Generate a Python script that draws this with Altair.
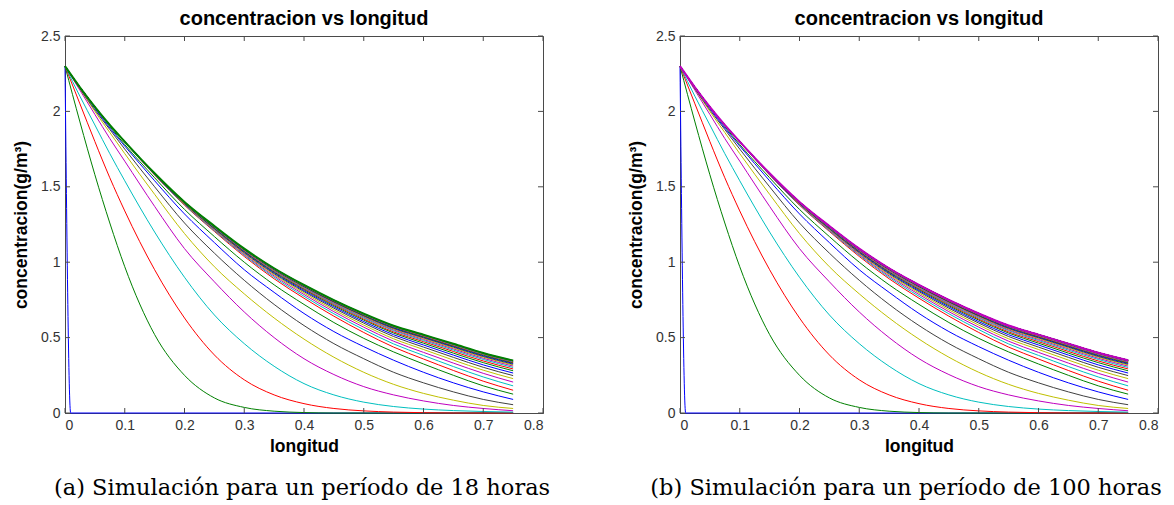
import altair as alt
import pandas as pd

# ---------------- data ----------------
longitud = [0, 0.025, 0.05, 0.075, 0.1, 0.15, 0.2, 0.25, 0.3, 0.35, 0.4, 0.45,
            0.5, 0.55, 0.6, 0.65, 0.7, 0.75]

# first profile (t = 0): a spike at the inlet
c01_x = [0, 0.0095, 0.75]
c01 = [2.30, 0.0, 0.0]

c02 = [2.30, 1.93, 1.58, 1.26, 0.97, 0.52, 0.25, 0.10, 0.037, 0.012, 0.003, 0, 0, 0, 0, 0, 0, 0]
c03 = [2.30, 2.05, 1.80, 1.56, 1.34, 0.95, 0.63, 0.385, 0.22, 0.12, 0.062, 0.03, 0.014, 0.006, 0.002, 0, 0, 0]
c04 = [2.30, 2.10, 1.91, 1.72, 1.54, 1.20, 0.90, 0.65, 0.46, 0.31, 0.195, 0.12, 0.072, 0.043, 0.026, 0.016, 0.010, 0.006]
c05 = [2.30, 2.14, 1.98, 1.82, 1.67, 1.37, 1.09, 0.87, 0.67, 0.50, 0.36, 0.255, 0.175, 0.12, 0.08, 0.05, 0.03, 0.015]
c06 = [2.30, 2.15, 2.00, 1.86, 1.72, 1.45, 1.19, 0.97, 0.79, 0.63, 0.49, 0.37, 0.27, 0.19, 0.13, 0.085, 0.05, 0.03]
c07 = [2.30, 2.15, 2.01, 1.88, 1.75, 1.50, 1.26, 1.06, 0.88, 0.72, 0.58, 0.46, 0.36, 0.27, 0.20, 0.14, 0.09, 0.055]
c08 = [2.30, 2.16, 2.02, 1.89, 1.77, 1.54, 1.32, 1.13, 0.95, 0.80, 0.66, 0.54, 0.44, 0.35, 0.27, 0.20, 0.14, 0.09]
c09 = [2.30, 2.16, 2.03, 1.90, 1.78, 1.56, 1.35, 1.17, 1.00, 0.85, 0.72, 0.60, 0.495, 0.405, 0.325, 0.25, 0.18, 0.125]
c10 = [2.30, 2.16, 2.029, 1.908, 1.796, 1.578, 1.378, 1.204, 1.038, 0.890, 0.761, 0.642, 0.534, 0.437, 0.358, 0.282, 0.211, 0.151]
c11 = [2.30, 2.16, 2.029, 1.908, 1.796, 1.580, 1.381, 1.209, 1.046, 0.900, 0.774, 0.658, 0.553, 0.458, 0.382, 0.308, 0.239, 0.180]
c12 = [2.30, 2.16, 2.029, 1.908, 1.797, 1.581, 1.384, 1.214, 1.052, 0.909, 0.786, 0.672, 0.569, 0.476, 0.402, 0.331, 0.263, 0.205]
c13 = [2.30, 2.16, 2.030, 1.909, 1.797, 1.583, 1.386, 1.218, 1.058, 0.917, 0.796, 0.684, 0.583, 0.492, 0.421, 0.351, 0.284, 0.228]
c14 = [2.30, 2.16, 2.030, 1.909, 1.798, 1.584, 1.389, 1.222, 1.063, 0.924, 0.805, 0.695, 0.596, 0.507, 0.437, 0.369, 0.303, 0.248]
c15 = [2.30, 2.16, 2.030, 1.909, 1.798, 1.585, 1.391, 1.225, 1.068, 0.930, 0.812, 0.704, 0.606, 0.519, 0.451, 0.384, 0.319, 0.265]
c16 = [2.30, 2.16, 2.030, 1.909, 1.799, 1.586, 1.392, 1.227, 1.072, 0.935, 0.819, 0.712, 0.616, 0.530, 0.463, 0.397, 0.334, 0.280]
c17 = [2.30, 2.16, 2.030, 1.909, 1.799, 1.587, 1.394, 1.230, 1.075, 0.940, 0.824, 0.719, 0.623, 0.538, 0.473, 0.408, 0.345, 0.292]
c18 = [2.30, 2.16, 2.030, 1.909, 1.799, 1.587, 1.395, 1.231, 1.078, 0.943, 0.829, 0.724, 0.630, 0.546, 0.481, 0.417, 0.355, 0.302]
c19 = [2.30, 2.16, 2.030, 1.910, 1.799, 1.588, 1.396, 1.233, 1.080, 0.946, 0.833, 0.729, 0.636, 0.552, 0.488, 0.425, 0.363, 0.311]
c20 = [2.30, 2.16, 2.030, 1.910, 1.799, 1.588, 1.396, 1.234, 1.082, 0.949, 0.836, 0.733, 0.640, 0.557, 0.494, 0.431, 0.370, 0.318]
c21 = [2.30, 2.16, 2.030, 1.910, 1.799, 1.588, 1.397, 1.235, 1.083, 0.951, 0.838, 0.736, 0.644, 0.561, 0.499, 0.437, 0.375, 0.324]
c22 = [2.30, 2.16, 2.030, 1.910, 1.800, 1.589, 1.398, 1.236, 1.085, 0.953, 0.841, 0.739, 0.647, 0.565, 0.503, 0.441, 0.380, 0.329]
c23 = [2.30, 2.16, 2.030, 1.910, 1.800, 1.589, 1.398, 1.237, 1.086, 0.954, 0.842, 0.741, 0.649, 0.568, 0.506, 0.445, 0.384, 0.333]
c24 = [2.30, 2.16, 2.030, 1.910, 1.800, 1.589, 1.399, 1.238, 1.087, 0.955, 0.844, 0.743, 0.652, 0.571, 0.509, 0.448, 0.388, 0.337]
c25 = [2.30, 2.16, 2.030, 1.910, 1.800, 1.589, 1.399, 1.238, 1.087, 0.956, 0.845, 0.745, 0.654, 0.573, 0.512, 0.451, 0.390, 0.340]
c26 = [2.30, 2.16, 2.030, 1.910, 1.800, 1.590, 1.399, 1.239, 1.088, 0.957, 0.846, 0.746, 0.655, 0.574, 0.513, 0.453, 0.392, 0.342]
c27 = [2.30, 2.16, 2.030, 1.910, 1.800, 1.590, 1.400, 1.239, 1.088, 0.958, 0.847, 0.747, 0.656, 0.576, 0.515, 0.455, 0.394, 0.344]
c28 = [2.30, 2.16, 2.030, 1.910, 1.800, 1.590, 1.400, 1.239, 1.089, 0.959, 0.848, 0.748, 0.658, 0.577, 0.517, 0.457, 0.396, 0.346]
c29 = [2.30, 2.16, 2.030, 1.910, 1.800, 1.590, 1.400, 1.240, 1.089, 0.959, 0.849, 0.749, 0.658, 0.578, 0.518, 0.458, 0.397, 0.347]
c30 = [2.30, 2.16, 2.030, 1.910, 1.800, 1.590, 1.400, 1.240, 1.090, 0.960, 0.849, 0.749, 0.659, 0.579, 0.519, 0.459, 0.398, 0.348]
# converged (steady-state) profile, repeated in the 100 h run
estacionario = [2.30, 2.16, 2.03, 1.91, 1.80, 1.59, 1.40, 1.24, 1.09, 0.96, 0.85, 0.75, 0.66, 0.58, 0.52, 0.46, 0.40, 0.35]

ticks_x = [0, 0.1, 0.2, 0.3, 0.4, 0.5, 0.6, 0.7, 0.8]
ticks_y = [0, 0.5, 1, 1.5, 2, 2.5]

# MATLAB default colour order (b, g, r, c, m, y, k)
colores = ["#0000FF", "#008000", "#FF0000", "#00BFBF", "#BF00BF", "#BFBF00", "#404040"]

titulo = "concentracion vs longitud"
eje_x = "longitud"
eje_y = "concentracion(g/m³)"
caption_a = "(a) Simulación para un período de 18 horas"
caption_b = "(b) Simulación para un período de 100 horas"

transitorios = [c02, c03, c04, c05, c06, c07, c08, c09, c10, c11, c12, c13, c14, c15, c16,
                c17, c18, c19, c20, c21, c22, c23, c24, c25, c26, c27, c28, c29, c30]
curvas_a = [(c01_x, c01)] + [(longitud, c) for c in transitorios]
curvas_b = curvas_a + [(longitud, estacionario)] * 10

W, H = 478, 377
AX = "#4a4a4a"
SANS = "Liberation Sans"


def tabla(curvas):
    filas = []
    n = len(curvas)
    for i, (xs, ys) in enumerate(curvas):
        for x, y in zip(xs, ys):
            filas.append({"curva": i, "x": x, "c": y, "color": colores[i % 7],
                          "grosor": 2.0 if i == n - 1 else 1.0})
    return pd.DataFrame(filas)


def panel(curvas, caption, dx):
    xs = alt.Scale(domain=[0, 0.8], nice=False, zero=False)
    ys = alt.Scale(domain=[0, 2.5], nice=False, zero=False)
    lineas = alt.Chart(tabla(curvas)).mark_line(interpolate="monotone").encode(
        x=alt.X("x:Q", scale=xs, axis=alt.Axis(values=ticks_x, format="~g", title=eje_x, ticks=False,
                                              tickSize=0, labelPadding=5, titlePadding=5)),
        y=alt.Y("c:Q", scale=ys, axis=alt.Axis(values=ticks_y, format="~g", title=eje_y, ticks=False,
                                              tickSize=0, labelPadding=5, titlePadding=10)),
        color=alt.Color("color:N", scale=None),
        strokeWidth=alt.StrokeWidth("grosor:Q", scale=None),
        detail="curva:O",
    )
    tx = pd.DataFrame({"t": ticks_x})
    ty = pd.DataFrame({"t": ticks_y})
    abajo = alt.Chart(tx).mark_rule(color=AX).encode(
        x=alt.X("t:Q", scale=xs), y=alt.value(H), y2=alt.value(H - 5))
    arriba = alt.Chart(tx).mark_rule(color=AX).encode(
        x=alt.X("t:Q", scale=xs), y=alt.value(0), y2=alt.value(5))
    izq = alt.Chart(ty).mark_rule(color=AX).encode(
        y=alt.Y("t:Q", scale=ys), x=alt.value(0), x2=alt.value(5))
    der = alt.Chart(ty).mark_rule(color=AX).encode(
        y=alt.Y("t:Q", scale=ys), x=alt.value(W), x2=alt.value(W - 5))
    interior = alt.layer(lineas, abajo, arriba, izq, der).properties(
        width=W, height=H,
        title=alt.TitleParams(titulo, font=SANS, fontSize=20, fontWeight="bold", color="black",
                              anchor="middle", frame="group", offset=0),
    )
    return alt.vconcat(interior, title=alt.TitleParams(
        caption, orient="bottom", anchor="middle", font="DejaVu Serif", dx=dx,
        fontSize=22.5, fontWeight="normal", color="black", offset=22))


chart = alt.hconcat(panel(curvas_a, caption_a, 24), panel(curvas_b, caption_b, 13), spacing=76).properties(
    padding={"left": 4, "top": 0, "right": 0, "bottom": 0}
).configure_view(stroke=AX, strokeWidth=1).configure_axis(
    domainColor=AX, labelFont=SANS, labelFontSize=14, labelColor="#333333",
    titleFont=SANS, titleFontSize=17.5, titleFontWeight="bold", titleColor="black", grid=False,
).configure_concat(spacing=76)

chart.save("out.html", embed_options={"renderer": "svg", "actions": False})
